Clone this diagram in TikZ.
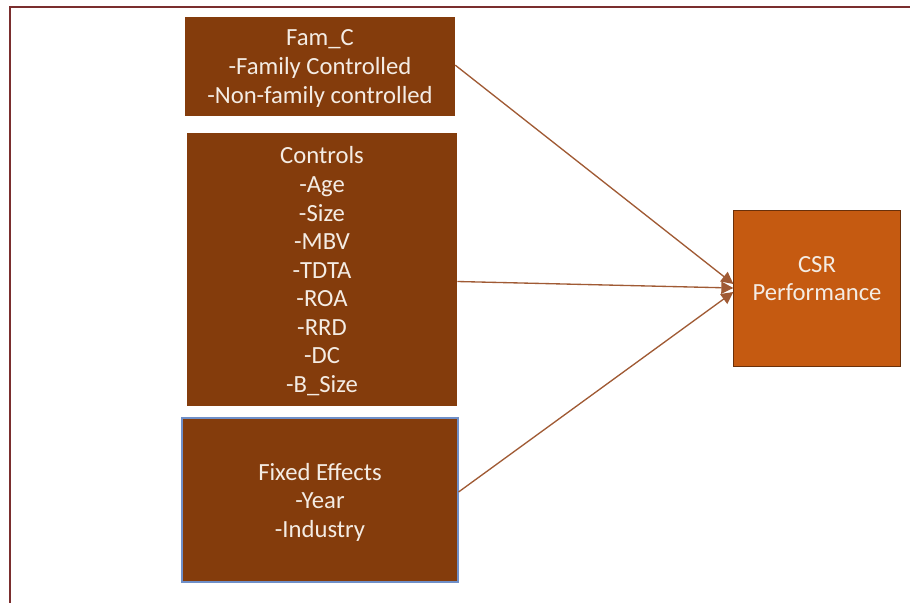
\documentclass[tikz,border=0pt]{standalone}
\usepackage{fontspec}
\setmainfont{Carlito}
\usetikzlibrary{arrows.meta}
\definecolor{boxbrown}{HTML}{843C0C}
\definecolor{csrorange}{HTML}{C55A11}
\definecolor{framered}{HTML}{7A2E2E}
\definecolor{arrowbrown}{HTML}{A05A34}
\definecolor{edgeblue}{HTML}{6F8FC8}
\definecolor{textcream}{HTML}{F4ECE4}
\begin{document}
\begin{tikzpicture}
  [x=0.75pt,y=-0.75pt,
   every node/.style={rectangle,align=center,text=textcream,
     font=\fontsize{18.5}{21.4}\selectfont},
   brownbox/.style={fill=boxbrown,text depth=0pt},
   link/.style={arrowbrown,line width=1pt,-{Triangle[length=9pt,width=9pt]}}]
\useasboundingbox (0,0) rectangle (910,603);
\draw[framered,line width=1.3pt] (10,603) -- (10,7) -- (910,7);
\node (famc)[brownbox,minimum width=202.5pt,minimum height=74.3pt] at (320,66.5)
  {Fam\_C\\-Family Controlled\\-Non-family controlled};
\node (controls)[brownbox,minimum width=202.5pt,minimum height=204.8pt] at (322,269.5)
  {Controls\\-Age\\-Size\\-MBV\\-TDTA\\-ROA\\-RRD\\-DC\\-B\_Size};
\node (fixed)[brownbox,draw=edgeblue,line width=0.8pt,minimum width=207pt,minimum height=123pt] at (320,500)
  {Fixed Effects\\-Year\\-Industry};
\node (csr)[fill=csrorange,draw=boxbrown!80!black,line width=0.5pt,minimum width=125pt,minimum height=117pt,text depth=14pt] at (817,288)
  {CSR\\Performance};
%\foreach \src in {famc,controls,fixed} \draw[link] (\src) -- (csr);
\draw[link] ([yshift=1pt]famc.east) -- ([yshift=3pt]csr.west);
\draw[link] ([yshift=-9pt]controls.east) -- (csr.west);
\draw[link] ([yshift=6pt]fixed.east) -- ([yshift=-3pt]csr.west);
\end{tikzpicture}
\end{document}
